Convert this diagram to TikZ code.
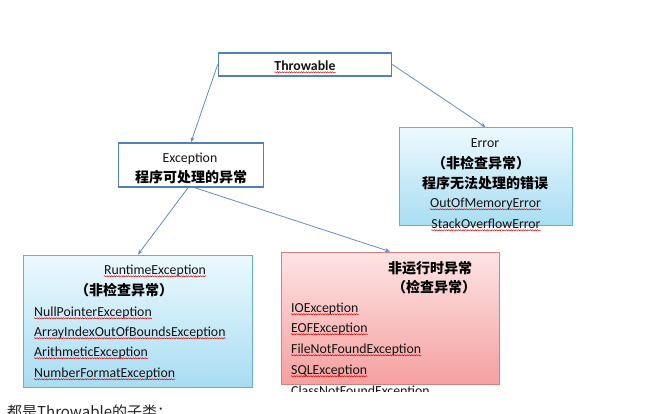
\documentclass[tikz,border=0pt]{standalone}
\usepackage{fontspec}
\setmainfont{Carlito}
\newfontfamily\cjk{Noto Sans CJK SC}
\usetikzlibrary{arrows.meta,decorations.pathmorphing}
\definecolor{bluebd}{RGB}{79,129,189}
\definecolor{arrowc}{RGB}{96,140,204}
\definecolor{cyanbd}{RGB}{96,178,214}
\definecolor{cyantop}{RGB}{236,249,254}
\definecolor{cyanbot}{RGB}{168,221,242}
\definecolor{redbd}{RGB}{212,128,128}
\definecolor{redtop}{RGB}{253,228,228}
\definecolor{redbot}{RGB}{245,160,160}
\definecolor{txtc}{RGB}{20,20,20}
\newcommand\latf{\fontsize{13.8pt}{16pt}\selectfont}
\newcommand\cjkf{\cjk\bfseries\fontsize{14pt}{16pt}\selectfont}
\newcommand\spellitem[3]{%
  \node[itemtxt] (#1) at (#2) {#3};
  \draw[spell] ([yshift=-2.3pt]#1.base west) -- ([yshift=-2.3pt]#1.base east);}
\begin{document}
\begin{tikzpicture}[x=1pt,y=-1pt,
  box/.style={draw=bluebd, line width=1.6pt, fill=white, inner sep=0pt},
  cbox/.style={draw=cyanbd, line width=0.9pt, top color=cyantop, bottom color=cyanbot, inner sep=0pt},
  rbox/.style={draw=redbd, line width=0.9pt, top color=redtop, bottom color=redbot, inner sep=0pt},
  txt/.style={inner sep=0pt, font=\latf, text=txtc},
  itemtxt/.style={txt, anchor=base west},
  ctxt/.style={inner sep=0pt, font=\cjkf, text=black, anchor=base},
  spell/.style={draw=red!85!black, line width=0.45pt, decorate,
    decoration={snake, amplitude=0.6pt, segment length=2.4pt}},
  conn/.style={draw=arrowc, line width=0.8pt, -{Stealth[length=5pt,width=4pt]}}]
\useasboundingbox (0,0) rectangle (653,413);

% boxes
\node[box, minimum width=173pt, minimum height=23pt] (thr) at (305,64.5) {};
\node[box, minimum width=145pt, minimum height=44pt] (exc) at (191,165) {};
\node[cbox, minimum width=173pt, minimum height=98pt] (err) at (485.5,176.5) {};
\node[cbox, minimum width=229pt, minimum height=132pt] (rt) at (138,321) {};
\node[rbox, minimum width=218pt, minimum height=132pt] (nr) at (390,318) {};

% connectors
\draw[conn] (thr.west) -- (exc.north);
\draw[conn] (thr.east) -- (err.north);
\draw[conn] ([xshift=-3pt]exc.south) -- (rt.north);
\draw[conn] ([xshift=4pt]exc.south) -- (nr.north);

% Throwable
\node[txt, font=\latf\bfseries, anchor=base] (thrt) at (305,70) {Throwable};
\draw[spell] ([yshift=-2.3pt]thrt.base west) -- ([yshift=-2.3pt]thrt.base east);

% Exception
\node[txt, anchor=base] (exct) at (190,162) {Exception};
\node[ctxt] (excc) at (191,182) {程序可处理的异常};

% Error
\node[txt, anchor=base] (errt) at (485,147) {Error};
\node[ctxt] (errc1) at (481,168) {（非检查异常）};
\node[ctxt] (errc2) at (485,188) {程序无法处理的错误};
\node[txt, anchor=base] (oom) at (485.5,207) {OutOfMemoryError};
\draw[spell] ([yshift=-2.3pt]oom.base west) -- ([yshift=-2.3pt]oom.base east);
\node[txt, anchor=base] (soe) at (486,228) {StackOverflowError};
\draw[spell] ([yshift=-2.3pt]soe.base west) -- ([yshift=-2.3pt]soe.base east);

% RuntimeException
\node[txt, anchor=base] (rtt) at (155,274) {RuntimeException};
\draw[spell] ([yshift=-2.3pt]rtt.base west) -- ([yshift=-2.3pt]rtt.base east);
\node[ctxt] (rtc) at (124,295) {（非检查异常）};
\spellitem{npe}{34,316}{NullPointerException}
\spellitem{aio}{34,336}{ArrayIndexOutOfBoundsException}
\spellitem{ari}{34,356}{ArithmeticException}
\spellitem{nfe}{34,377}{NumberFormatException}

% non-runtime
\node[ctxt] (nrc1) at (430,273) {非运行时异常};
\node[ctxt] (nrc2) at (434,292) {（检查异常）};
\spellitem{ioe}{291,312}{IOException}
\spellitem{eof}{291,332}{EOFException}
\spellitem{fnf}{291,353}{FileNotFoundException}
\spellitem{sql}{291,374}{SQLException}
\begin{scope}
\clip (270,384.5) rectangle (520,391);
\node[itemtxt] (cnf) at (291,395) {ClassNotFoundException};
\end{scope}

% bottom note (cut by the page edge, as in the reference)
\node[inner sep=0pt, anchor=base west, font=\cjk\fontsize{15pt}{18pt}\selectfont, text=black!85] (note) at (7,417) {都是Throwable的子类：};
\end{tikzpicture}
\end{document}
